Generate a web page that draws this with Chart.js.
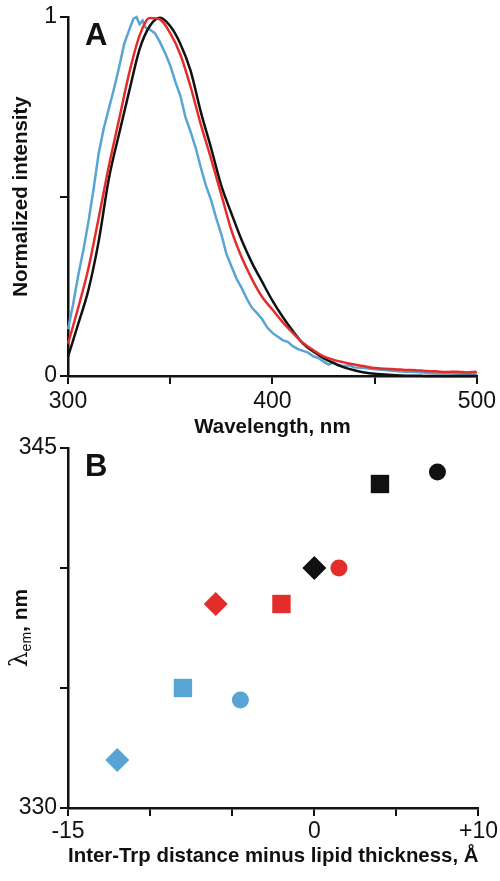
<!DOCTYPE html>
<html>
<head>
<meta charset="utf-8">
<script src="https://cdn.jsdelivr.net/npm/chart.js@4"></script>
<style>
  html, body { margin: 0; padding: 0; background: #fff; }
  body { width: 500px; height: 881px; position: relative; overflow: hidden; }
  canvas { position: absolute; left: 0; }
  #spectraChart { top: 0; }
  #lambdaChart { top: 425px; }
</style>
</head>
<body>
<canvas id="spectraChart" width="500" height="440"></canvas>
<canvas id="lambdaChart" width="500" height="456"></canvas>
<script>
// panel A: normalized emission spectra
const wavelengths = [300, 305, 310, 315, 320, 325, 330, 335, 340, 345, 350, 355, 360, 365, 370, 375, 380,
  385, 390, 395, 400, 405, 410, 415, 420, 425, 430, 435, 440, 445, 450, 455, 460, 465, 470, 475, 480,
  485, 490, 495, 500]
const blackIntensity = [0.054, 0.145, 0.24, 0.375, 0.55, 0.675, 0.795, 0.91, 0.975, 0.998, 0.975, 0.925,
  0.85, 0.735, 0.635, 0.53, 0.452, 0.378, 0.315, 0.262, 0.21, 0.165, 0.125, 0.09, 0.068, 0.05, 0.036,
  0.024, 0.016, 0.01, 0.006, 0.004, 0.002, 0.001, 0.001, 0, 0, 0, 0, 0, 0]
const redIntensity = [0.09, 0.19, 0.3, 0.44, 0.585, 0.715, 0.845, 0.948, 0.997, 0.993, 0.955, 0.895,
  0.805, 0.7, 0.605, 0.505, 0.405, 0.33, 0.27, 0.22, 0.185, 0.15, 0.12, 0.092, 0.072, 0.055, 0.045,
  0.038, 0.032, 0.027, 0.022, 0.02, 0.019, 0.017, 0.016, 0.014, 0.013, 0.011, 0.012, 0.01, 0.012]
const blueWavelengths = [300, 302.5, 305, 307.5, 310, 312.5, 315, 317.5, 320, 322.5, 325, 327.5, 330, 332,
  333.5, 335, 336.5, 338, 340, 342.5, 345, 347.5, 350, 352.5, 355, 357.5, 360, 362.5, 365, 367.5, 370,
  372.5, 375, 377.5, 380, 382.5, 385, 387.5, 390, 392.5, 395, 397.5, 400, 402.5, 405, 407.5, 410, 412.5,
  415, 417.5, 420, 422.5, 425, 427.5, 430, 432.5, 435, 437.5, 440, 445, 450, 455, 460, 465, 470, 475,
  480, 485, 490, 495, 500]
const blueIntensity = [0.13, 0.2, 0.28, 0.35, 0.43, 0.52, 0.62, 0.69, 0.745, 0.8, 0.86, 0.925, 0.965,
  0.995, 1.0, 0.98, 0.99, 0.97, 0.965, 0.955, 0.93, 0.9, 0.865, 0.82, 0.78, 0.72, 0.68, 0.635, 0.58,
  0.53, 0.49, 0.44, 0.395, 0.34, 0.305, 0.27, 0.245, 0.215, 0.19, 0.175, 0.158, 0.135, 0.12, 0.11, 0.1,
  0.095, 0.083, 0.075, 0.07, 0.065, 0.055, 0.05, 0.04, 0.032, 0.038, 0.03, 0.028, 0.03, 0.024, 0.022,
  0.019, 0.017, 0.014, 0.012, 0.011, 0.009, 0.008, 0.008, 0.006, 0.007, 0.006]

// panel B: emission maximum vs inter-Trp distance minus lipid thickness
const diamondX = [-12, -6, 0]
const diamondY = [332, 338.5, 340]
const squareX = [-8, -2, 4]
const squareY = [335, 338.5, 343.5]
const circleX = [-4.5, 1.5, 7.5]
const circleY = [334.5, 340, 344]

const blue = 'rgb(88, 164, 212)'
const red = 'rgb(228, 45, 42)'
const black = '#111'
const markerColors = [blue, red, black]

const tickFont = { family: "'Liberation Sans', Arial, sans-serif", size: 23 }
const titleFont = { family: "'Liberation Sans', Arial, sans-serif", size: 20.5, weight: 'bold' }

function toPoints(xs, ys) {
  return xs.map((x, i) => ({ x, y: ys[i] }))
}

function axis(extra) {
  return Object.assign({
    type: 'linear',
    grid: { display: true, drawOnChartArea: false, drawTicks: true, tickLength: 8, color: black, lineWidth: 2 },
    border: { display: true, color: black, width: 2.5 },
  }, extra)
}

// draws the panel letter, and an optional custom y title (for the subscript)
const panelText = {
  id: 'panelText',
  afterDraw(chart, args, opts) {
    const { ctx, chartArea } = chart
    ctx.save()
    ctx.fillStyle = black
    ctx.font = "bold 31px 'Liberation Sans', Arial, sans-serif"
    ctx.textBaseline = 'alphabetic'
    ctx.textAlign = 'left'
    ctx.fillText(opts.letter, chartArea.left + 17, chartArea.top + 28)
    if (opts.lambdaTitle) {
      const cy = (chartArea.top + chartArea.bottom) / 2
      const fMain = "25px 'DejaVu Serif', serif"
      const fSub = "14px 'Liberation Sans', Arial, sans-serif"
      const fRest = "bold 21px 'Liberation Sans', Arial, sans-serif"
      ctx.font = fMain; const w1 = ctx.measureText('λ').width
      ctx.font = fSub; const w2 = ctx.measureText('em').width
      ctx.font = fRest; const w3 = ctx.measureText(', nm').width
      ctx.translate(19, cy)
      ctx.rotate(-Math.PI / 2)
      let x = -(w1 + w2 + w3) / 2
      ctx.font = fMain; ctx.fillText('λ', x, 8); x += w1
      ctx.font = fSub; ctx.fillText('em', x, 12); x += w2
      ctx.font = fRest; ctx.fillText(', nm', x, 8)
    }
    ctx.restore()
  }
}

new Chart(document.getElementById('spectraChart'), {
  type: 'line',
  data: {
    datasets: [
      { data: toPoints(wavelengths, redIntensity), borderColor: red },
      { data: toPoints(wavelengths, blackIntensity), borderColor: black },
      { data: toPoints(blueWavelengths, blueIntensity), borderColor: blue, cubicInterpolationMode: 'default', tension: 0 },
    ]
  },
  options: {
    responsive: false,
    animation: false,
    devicePixelRatio: 1,
    layout: { padding: { top: 17, right: 21, bottom: 0, left: 0 } },
    elements: {
      line: { borderWidth: 2.5, fill: false, cubicInterpolationMode: 'monotone' },
      point: { radius: 0 },
    },
    datasets: { line: { clip: false } },
    scales: {
      x: axis({
        min: 300, max: 500,
        ticks: { stepSize: 50, autoSkip: false, maxRotation: 0, color: black, font: tickFont, padding: 4,
          callback: v => (v % 100 === 0 ? String(v) : '') },
        title: { display: true, text: 'Wavelength, nm', color: black, font: titleFont, padding: 0 },
        afterFit: s => { s.height = 64 },
      }),
      y: axis({
        min: 0, max: 1,
        ticks: { stepSize: 0.5, autoSkip: false, color: black, font: tickFont, padding: 3,
          callback: v => (v === 0.5 ? '' : String(v)) },
        title: { display: true, text: 'Normalized intensity', color: black, font: titleFont, padding: { top: 9, bottom: 0 } },
        afterFit: s => { s.width = 68 },
      }),
    },
    plugins: { legend: { display: false }, tooltip: { enabled: false }, panelText: { letter: 'A' } },
  },
  plugins: [panelText],
})

new Chart(document.getElementById('lambdaChart'), {
  type: 'scatter',
  data: {
    datasets: [
      { data: toPoints(diamondX, diamondY), pointStyle: 'rectRot', pointRadius: 12 },
      { data: toPoints(squareX, squareY), pointStyle: 'rect', pointRadius: 13 },
      { data: toPoints(circleX, circleY), pointStyle: 'circle', pointRadius: 8.5 },
    ]
  },
  options: {
    responsive: false,
    animation: false,
    devicePixelRatio: 1,
    layout: { padding: { top: 23, right: 21, bottom: 12, left: 0 } },
    elements: { point: { backgroundColor: markerColors, borderWidth: 0, hoverRadius: 0 } },
    datasets: { scatter: { clip: false } },
    scales: {
      x: axis({
        min: -15, max: 10,
        ticks: { stepSize: 5, autoSkip: false, maxRotation: 0, color: black, font: tickFont, padding: 2,
          callback: v => (v === -15 ? '-15' : v === 0 ? '0' : v === 10 ? '+10' : '') },
        title: { display: true, text: 'Inter-Trp distance minus lipid thickness, Å', color: black, font: titleFont, padding: 0 },
        afterFit: s => { s.height = 61 },
      }),
      y: axis({
        min: 330, max: 345,
        ticks: { stepSize: 5, autoSkip: false, color: black, font: tickFont, padding: 3,
          callback: v => (v === 330 || v === 345 ? String(v) : '') },
        title: { display: false },
        afterFit: s => { s.width = 68 },
      }),
    },
    plugins: { legend: { display: false }, tooltip: { enabled: false }, panelText: { letter: 'B', lambdaTitle: true } },
  },
  plugins: [panelText],
})
</script>
</body>
</html>
